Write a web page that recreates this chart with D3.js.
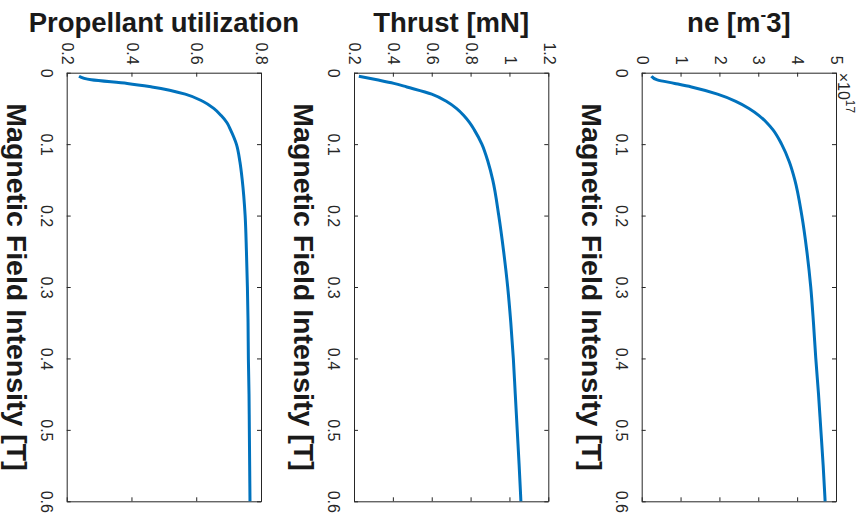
<!DOCTYPE html>
<html>
<head>
<meta charset="utf-8">
<script src="https://cdn.jsdelivr.net/npm/d3@7"></script>
<style>
  html, body { margin: 0; padding: 0; background: #fff; }
  svg { display: block; font-family: "Liberation Sans", Arial, Helvetica, sans-serif; }
  .axis path, .axis line { stroke: #262626; stroke-width: 1; }
  .axis text { fill: #262626; font-size: 16px; }
</style>
</head>
<body>
<svg id="chart" width="867" height="523"></svg>
<script>
// Magnetic field intensity sweep [T]
const fieldT = [0.005, 0.01, 0.015, 0.02, 0.03, 0.04, 0.05, 0.06, 0.07, 0.08, 0.1,
                0.125, 0.15, 0.2, 0.25, 0.3, 0.35, 0.4, 0.45, 0.5, 0.55, 0.6];

// Propellant utilization (fraction)
const propellantUtil = [0.238, 0.276, 0.387, 0.463, 0.566, 0.620, 0.654, 0.677, 0.695, 0.706, 0.724,
                        0.735, 0.742, 0.751, 0.755, 0.758, 0.760, 0.761, 0.763, 0.764, 0.765, 0.766];

// Thrust [mN]
const thrustMN = [0.225, 0.318, 0.405, 0.472, 0.600, 0.675, 0.727, 0.765, 0.795, 0.819, 0.858,
                  0.890, 0.914, 0.945, 0.970, 0.991, 1.007, 1.020, 1.030, 1.040, 1.050, 1.059];

// Electron density [m^-3], in units of 1e17
const electronDensity = [0.25, 0.40, 0.85, 1.28, 1.95, 2.42, 2.76, 3.02, 3.22, 3.38, 3.60,
                         3.80, 3.94, 4.12, 4.25, 4.35, 4.42, 4.48, 4.55, 4.61, 4.67, 4.72];

// Tick values
const fieldTicks = [0, 0.1, 0.2, 0.3, 0.4, 0.5, 0.6];
const propTicks = [0.2, 0.4, 0.6, 0.8];
const thrustTicks = [0.2, 0.4, 0.6, 0.8, 1, 1.2];
const neTicks = [0, 1, 2, 3, 4, 5];

const titles = ["Propellant utilization", "Thrust [mN]", null];
const fieldLabel = "Magnetic Field Intensity [T]";

const svg = d3.select("#chart");
const plotTop = 72.7, plotBottom = 501.3, boxW = 194.3;
const lefts = [66.7, 354, 641.7];
const lineColor = "#0072BD";
const fmt = d3.format("~g");

const panels = [
  { values: propellantUtil, domain: [0.2, 0.8], ticks: propTicks, title: titles[0] },
  { values: thrustMN, domain: [0.2, 1.2], ticks: thrustTicks, title: titles[1] },
  { values: electronDensity, domain: [0, 5], ticks: neTicks, title: null, exponent: 17 }
];

panels.forEach((p, i) => {
  const x0 = lefts[i], x1 = x0 + boxW;
  const xScale = d3.scaleLinear().domain(p.domain).range([x0, x1]);
  const yScale = d3.scaleLinear().domain([0, 0.6]).range([plotTop, plotBottom]);
  const g = svg.append("g");

  // value axis along the top edge, labels turned a quarter clockwise
  const axTop = g.append("g").attr("class", "axis")
    .attr("transform", `translate(0,${plotTop})`)
    .call(d3.axisTop(xScale).tickValues(p.ticks).tickFormat(fmt).tickSize(-4).tickSizeOuter(0));
  axTop.selectAll("text")
    .attr("x", 0).attr("y", 0).attr("dy", "0.33em")
    .attr("text-anchor", "end")
    .attr("transform", "translate(0,-8) rotate(90)");

  // mirrored ticks on the bottom edge
  g.append("g").attr("class", "axis")
    .attr("transform", `translate(0,${plotBottom})`)
    .call(d3.axisBottom(xScale).tickValues(p.ticks).tickFormat("").tickSize(-4).tickSizeOuter(0));

  // field axis along the left edge
  const axLeft = g.append("g").attr("class", "axis")
    .attr("transform", `translate(${x0},0)`)
    .call(d3.axisLeft(yScale).tickValues(fieldTicks).tickFormat(fmt).tickSize(-4).tickSizeOuter(0));
  axLeft.selectAll("text")
    .attr("x", 0).attr("y", 0).attr("dy", "0")
    .attr("text-anchor", "middle")
    .attr("transform", "translate(-26,0) rotate(90)");

  // mirrored ticks on the right edge
  g.append("g").attr("class", "axis")
    .attr("transform", `translate(${x1},0)`)
    .call(d3.axisRight(yScale).tickValues(fieldTicks).tickFormat("").tickSize(-4).tickSizeOuter(0));

  // data curve
  const pts = fieldT.map((b, k) => [b, p.values[k]]);
  g.append("path")
    .datum(pts)
    .attr("fill", "none")
    .attr("stroke", lineColor)
    .attr("stroke-width", 3)
    .attr("stroke-linejoin", "round")
    .attr("d", d3.line().x(d => xScale(d[1])).y(d => yScale(d[0])).curve(d3.curveMonotoneY));

  // field axis title
  g.append("text")
    .attr("transform", `translate(${x0 - 60},${(plotTop + plotBottom) / 2}) rotate(90)`)
    .attr("text-anchor", "middle")
    .attr("font-size", 28.5).attr("font-weight", "bold").attr("fill", "#1a1a1a")
    .text(fieldLabel);

  // panel title
  const cx = (x0 + x1) / 2;
  if (p.title) {
    g.append("text")
      .attr("x", cx).attr("y", 32)
      .attr("text-anchor", "middle")
      .attr("font-size", 27.5).attr("font-weight", "bold").attr("fill", "#1a1a1a")
      .text(p.title);
  } else {
    const t = g.append("text")
      .attr("x", cx).attr("y", 32)
      .attr("text-anchor", "middle")
      .attr("font-size", 27.5).attr("font-weight", "bold").attr("fill", "#1a1a1a");
    t.append("tspan").text("ne [m");
    t.append("tspan").attr("font-size", 17).attr("dy", -12).text("-");
    t.append("tspan").attr("dy", 12).text("3]");
  }

  // exponent marker
  if (p.exponent) {
    const e = g.append("text")
      .attr("transform", `translate(${x1 + 2},${plotTop}) rotate(90)`)
      .attr("text-anchor", "start")
      .attr("font-size", 16).attr("fill", "#262626");
    e.append("tspan").text("\u00d710");
    e.append("tspan").attr("font-size", 12).attr("dy", -8).text(p.exponent);
  }
});
</script>
</body>
</html>
